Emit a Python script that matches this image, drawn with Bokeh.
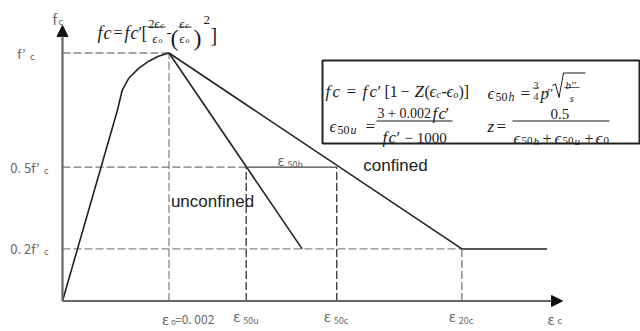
from bokeh.plotting import figure
from bokeh.models import Range1d, Arrow, NormalHead
from bokeh.core.properties import value
from bokeh.embed import file_html
from bokeh.resources import INLINE

# ---- characteristic strains (eps_o = 0.002) ----
eps_0 = 0.002
eps_50u = 0.00345
eps_50c = 0.00515
eps_20c = 0.0075
eps_unconf_end = 0.0045
eps_conf_end = 0.0091
eps_axis_end = 0.00939

# ---- stress levels as fractions of f'c ----
stress_peak = 1.0
stress_50 = 0.54
stress_20 = 0.21
stress_axis_end = 1.111

# ascending branch up to the peak
rise_strain = [0.0, 0.00103, 0.00112, 0.00124, 0.00143, 0.00162, 0.00180, 0.002]
rise_stress = [0.0, 0.768, 0.849, 0.897, 0.938, 0.967, 0.987, 1.0]

# descending branches
unconf_strain = [eps_0, eps_unconf_end]
unconf_stress = [stress_peak, stress_20]
conf_strain = [eps_0, eps_20c]
conf_stress = [stress_peak, stress_20]
plateau_strain = [eps_20c, eps_conf_end]
plateau_stress = [stress_20, stress_20]

# tick-style labels on both axes
stress_ticks = [stress_peak, stress_50, stress_20]
stress_tick_labels = ["f’", "0. 5f’", "0. 2f’"]
strain_ticks = [eps_50u, eps_50c, eps_20c]
strain_tick_subs = ["50u", "50c", "20c"]

W, H = 640, 331
XR = (-0.0011643, 0.0108545)
YR = (-0.12298, 1.2117)


def X(px):
    return XR[0] + px * (XR[1] - XR[0]) / W


def Y(py):
    return YR[1] - py * (YR[1] - YR[0]) / H


def PY(v):
    return (YR[1] - v) * H / (YR[1] - YR[0])


p = figure(width=W, height=H, x_range=Range1d(*XR), y_range=Range1d(*YR),
           output_backend="svg", toolbar_location=None, min_border=0,
           x_axis_location=None, y_axis_location=None)
p.grid.visible = False
p.outline_line_color = None
p.background_fill_color = "white"
p.border_fill_color = "white"

SERIF = "Liberation Serif"
GOTH = "Noto Sans CJK JP"
SANS = "Liberation Sans"
IT = "italic"
INK = "#1a1a1a"


def put(x, y, txt, size, font=SERIF, color=INK, style="normal",
        align="left", baseline="alphabetic", xo=0):
    p.text(x=[x], y=[y], text=[txt], text_font=value(font),
           text_font_size=f"{size}px", text_color=color, text_font_style=style,
           text_align=align, text_baseline=baseline, x_offset=xo)


def m(px, py, txt, size, style="normal"):
    # piece of a formula placed on the pixel grid
    put(X(px), Y(py), txt, size, style=style)


def bar(x0, x1, y, w=1.0):
    p.segment(x0=[X(x0)], x1=[X(x1)], y0=[Y(y)], y1=[Y(y)], line_color=INK, line_width=w)


# ---- dashed guide lines ----
DASH = "8 3"
p.line([0, eps_0], [stress_peak, stress_peak], line_color="#888", line_dash=DASH, line_width=1.3)
p.line([eps_0, eps_0], [0, stress_peak], line_color="#888", line_dash=DASH, line_width=1.3)
p.line([0, eps_50u], [stress_50, stress_50], line_color="#777", line_dash=DASH, line_width=1.3)
p.line([eps_50u, eps_50u], [0, stress_50], line_color="#333", line_dash=DASH, line_width=1.3)
p.line([eps_50c, eps_50c], [0, stress_50], line_color="#333", line_dash=DASH, line_width=1.3)
p.line([0, eps_20c], [stress_20, stress_20], line_color="#888", line_dash=DASH, line_width=1.3)
p.line([eps_20c, eps_20c], [0, stress_20], line_color="#777", line_dash=DASH, line_width=1.3)

# ---- stress-strain curves ----
p.line(rise_strain, rise_stress, line_color="#222", line_width=1.6)
p.line(unconf_strain, unconf_stress, line_color="#222", line_width=1.6)
p.line(conf_strain, conf_stress, line_color="#222", line_width=1.6)
p.line(plateau_strain, plateau_stress, line_color="#555", line_width=2)
p.line([eps_50u, eps_50c], [stress_50, stress_50], line_color="#444", line_width=1.4)

# ---- axes with arrow heads ----
p.add_layout(Arrow(end=NormalHead(size=11, fill_color="#111", line_color="#111"),
                   x_start=0, y_start=0, x_end=eps_axis_end, y_end=0,
                   line_color="#666", line_width=2.2))
p.add_layout(Arrow(end=NormalHead(size=11, fill_color="#111", line_color="#111"),
                   x_start=0, y_start=0, x_end=0, y_end=stress_axis_end,
                   line_color="#666", line_width=2.2))

# ---- axis labels ----
LC = "#666"
put(X(52), Y(18), "f", 14, GOTH, LC)
put(X(58), Y(21), "c", 9, GOTH, LC)
for lvl, txt in zip(stress_ticks, stress_tick_labels):
    shift = 14 if lvl == stress_peak else 0
    put(0, lvl, txt, 13, GOTH, LC, align="right", baseline="middle", xo=-23 - shift)
    put(0, Y(PY(lvl) + 3), "c", 9, GOTH, LC, align="right", baseline="middle", xo=-15 - shift + 1)

put(eps_0, Y(318), "ε", 14, GOTH, LC, baseline="middle", xo=-7)
put(eps_0, Y(321), "o", 8, GOTH, LC, baseline="middle", xo=2)
put(eps_0, Y(318), "=0. 002", 12, GOTH, LC, baseline="middle", xo=6)
for e, sub in zip(strain_ticks, strain_tick_subs):
    put(e, Y(315), "ε", 14, GOTH, LC, baseline="middle", xo=-13)
    put(e, Y(320), sub, 9, GOTH, LC, baseline="middle", xo=-3)
put(X(547), Y(318), "ε", 14, GOTH, LC, baseline="middle")
put(X(557), Y(320), "c", 9, GOTH, LC, baseline="middle")
put(X(277), Y(159), "ε", 14, GOTH, LC, baseline="middle")
put(X(287), Y(164), "50h", 9, GOTH, LC, baseline="middle")

put(X(212), Y(201), "unconfined", 17, SANS, "#222", align="center", baseline="middle")
put(X(395), Y(165), "confined", 17, SANS, "#222", align="center", baseline="middle")

# ---- parabola formula above the peak ----
m(97, 32, "f", 18, IT)
m(103, 32, "c", 18, IT)
m(113, 32, "=", 16)
m(124, 32, "f", 18, IT)
m(130, 32, "c", 18, IT)
m(138, 32, "′", 16)
m(141, 32, "[", 18)
m(148, 23, "2", 12)
m(154, 23, "ϵ", 12, IT)
m(160, 25, "c", 8, IT)
bar(147, 165, 26.5, 0.9)
m(152, 38, "ϵ", 12, IT)
m(158, 40, "o", 8, IT)
m(166, 31, "-", 14)
m(170, 37, "(", 24)
m(179, 23, "ϵ", 12, IT)
m(185, 25, "c", 8, IT)
bar(178, 191, 26.5, 0.9)
m(179, 38, "ϵ", 12, IT)
m(185, 40, "o", 8, IT)
m(193, 37, ")", 24)
m(203, 19, "2", 13)
m(210, 34, "]", 20)

# ---- formula box ----
p.quad(left=[X(322)], right=[X(639)], top=[Y(60)], bottom=[Y(143)],
       fill_color=None, line_color="#222", line_width=2)

FS = 17
DS = 16
B1 = 91
m(325, B1, "f", FS, IT)
m(332, B1, "c", FS, IT)
m(346, B1, "=", FS)
m(362, B1, "f", FS, IT)
m(369, B1, "c", FS, IT)
m(377, B1, "′", FS)
m(384, B1, "[1", DS)
m(400, B1, "−", DS)
m(414, B1, "Z", FS, IT)
m(424, B1, "(", DS)
m(429, B1, "ϵ", FS, IT)
m(436, B1 + 3, "c", 10, IT)
m(441, B1, "-", DS)
m(446, B1, "ϵ", FS, IT)
m(453, B1 + 3, "o", 10, IT)
m(458, B1, ")]", DS)

B2 = 126
m(329, B2, "ϵ", FS, IT)
m(337, B2 + 3, "50", 12)
m(350, B2 + 3, "u", 12, IT)
m(365, B2, "=", FS)
m(377, 113, "3 + 0.002", 14)
m(432, 113, "f", FS, IT)
m(438, 113, "c", FS, IT)
m(445, 113, "′", FS)
bar(376, 452, 120.5, 1.0)
m(382, 137, "f", FS, IT)
m(388, 137, "c", FS, IT)
m(396, 137, "′", FS)
m(404, 137, "− 1000", 15)

B3 = 93
m(487, B3, "ϵ", FS, IT)
m(495, B3 + 3, "50", 12)
m(508, B3 + 3, "h", 12, IT)
m(520, B3, "=", FS)
m(533, 85, "3", 10)
bar(532, 539, 87.5, 0.7)
m(533, 96, "4", 10)
m(540, B3, "p", FS, IT)
m(547, B3 - 1, "′′", 13)
# radical sign
p.line([X(552), X(555), X(558.5), X(563), X(585)],
       [Y(85), Y(83.5), Y(97), Y(72.5), Y(72.5)], line_color=INK, line_width=1.0)
m(565, 84, "b′′", 11, IT)
bar(564, 579, 87, 0.7)
m(569, 97, "s", 11, IT)

B4 = 126
m(487, B4, "z", FS, IT)
m(496, B4, "=", FS)
m(550, 113, "0.5", 15)
bar(512, 609, 120.5, 1.0)
B5 = 138
m(513, B5, "ϵ", FS, IT)
m(521, B5 + 2, "50", 11)
m(533, B5 + 2, "h", 11, IT)
m(542, B5, "+", DS)
m(554, B5, "ϵ", FS, IT)
m(562, B5 + 2, "50", 11)
m(574, B5 + 2, "u", 11, IT)
m(584, B5, "+", DS)
m(595, B5, "ϵ", FS, IT)
m(603, B5 + 2, "0", 11)

open("out.html", "w").write(file_html(p, INLINE))
